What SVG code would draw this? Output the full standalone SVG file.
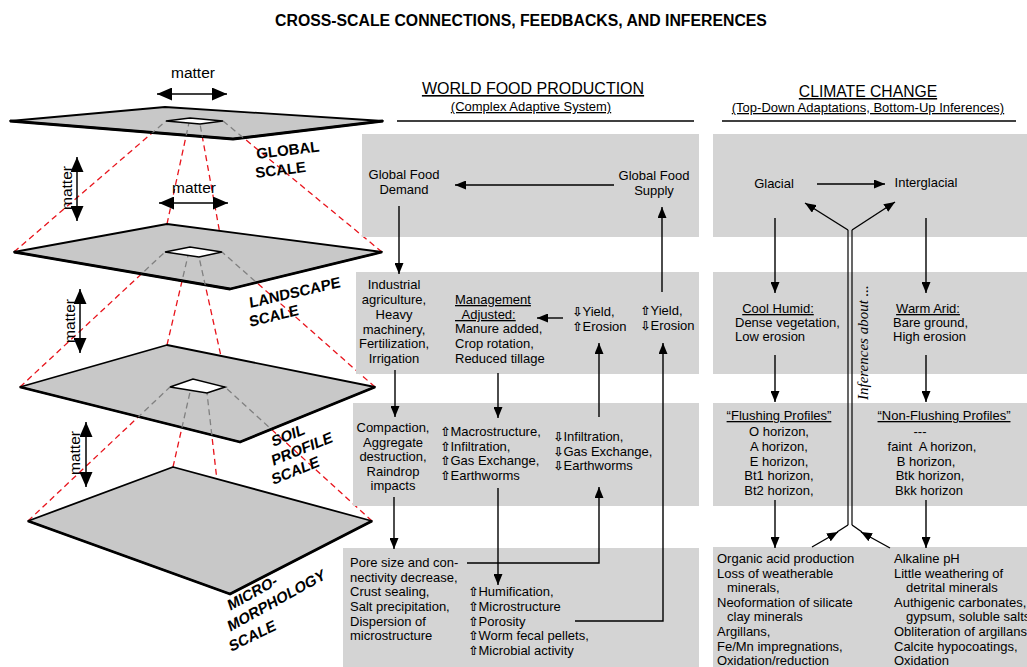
<svg xmlns="http://www.w3.org/2000/svg" width="1027" height="667" viewBox="0 0 1027 667">
<style>
text{font-family:"Liberation Sans",Arial,sans-serif;fill:#000}
.t{font-size:13px}
.c{text-anchor:middle}
.u{text-decoration:underline}
.g{font-family:"DejaVu Sans",sans-serif;font-weight:bold;font-size:12.5px}
.box{fill:#d4d4d4}
.plane{fill:#c8c8c8;stroke:#000;stroke-width:1.8;stroke-linejoin:round}
.front{fill:none;stroke:#000;stroke-width:2.8;stroke-linejoin:round}
.hole{fill:#fff;stroke:#000;stroke-width:1.5}
.red{stroke:#e8141c;stroke-width:1.3;stroke-dasharray:6 4;fill:none}
.gray{stroke:#808080;stroke-width:1.3;stroke-dasharray:6 4;fill:none}
.ln{stroke:#000;stroke-width:1.4;fill:none}
.arr{stroke:#000;stroke-width:1.4;fill:none;marker-end:url(#ah)}
.mat{stroke:#000;stroke-width:1.5;fill:none;marker-start:url(#big);marker-end:url(#big)}
.scale{font-size:15px;font-weight:bold}
</style>
<defs>
<marker id="ah" markerUnits="userSpaceOnUse" markerWidth="11" markerHeight="9" refX="11" refY="4.5" orient="auto"><path d="M0,0 L11,4.5 L0,9 z" fill="#000"/></marker>
<marker id="big" markerUnits="userSpaceOnUse" markerWidth="15" markerHeight="13" refX="15" refY="6.5" orient="auto-start-reverse"><path d="M0,0 L15,6.5 L0,13 z" fill="#000"/></marker>
<clipPath id="cp1"><polygon points="10,121 165,107 383,121 233,139"/></clipPath>
<clipPath id="cp2"><polygon points="14,252 167,224 382,252 230,289"/></clipPath>
<clipPath id="cp3"><polygon points="20,387 167,345 375,387 240,442"/></clipPath>
</defs>
<rect width="1027" height="667" fill="#fff"/>

<text x="521" y="26" class="c" style="font-size:15.8px;font-weight:bold">CROSS-SCALE CONNECTIONS, FEEDBACKS, AND INFERENCES</text>

<g id="scales">
<g id="red-lines">
<line class="red" x1="14" y1="252" x2="166" y2="121"/>
<line class="red" x1="167" y1="224" x2="190" y2="118"/>
<line class="red" x1="382" y1="252" x2="223" y2="121"/>
<line class="red" x1="230" y1="289" x2="200" y2="124"/>
<line class="red" x1="20" y1="387" x2="165" y2="252"/>
<line class="red" x1="167" y1="345" x2="190" y2="247"/>
<line class="red" x1="375" y1="387" x2="222" y2="252"/>
<line class="red" x1="240" y1="442" x2="199" y2="257"/>
<line class="red" x1="28" y1="521" x2="170" y2="387"/>
<line class="red" x1="173" y1="467" x2="193" y2="379"/>
<line class="red" x1="372" y1="521" x2="225" y2="387"/>
<line class="red" x1="230" y1="594" x2="207" y2="393"/>
</g>
<g id="global-plane">
<polygon class="plane" points="10,121 165,107 383,121 233,139"/>
<polyline class="front" points="10,121 233,139 383,121"/>
<g clip-path="url(#cp1)">
<line class="gray" x1="14" y1="252" x2="166" y2="121"/>
<line class="gray" x1="167" y1="224" x2="190" y2="118"/>
<line class="gray" x1="382" y1="252" x2="223" y2="121"/>
<line class="gray" x1="230" y1="289" x2="200" y2="124"/>
</g>
<polygon class="hole" points="166,121 190,118 223,121 200,124"/>
</g>
<g id="landscape-plane">
<polygon class="plane" points="14,252 167,224 382,252 230,289"/>
<polyline class="front" points="14,252 230,289 382,252"/>
<g clip-path="url(#cp2)">
<line class="gray" x1="20" y1="387" x2="165" y2="252"/>
<line class="gray" x1="167" y1="345" x2="190" y2="247"/>
<line class="gray" x1="375" y1="387" x2="222" y2="252"/>
<line class="gray" x1="240" y1="442" x2="199" y2="257"/>
</g>
<polygon class="hole" points="165,252 190,247 222,252 199,257"/>
</g>
<g id="soil-plane">
<polygon class="plane" points="20,387 167,345 375,387 240,442"/>
<polyline class="front" points="20,387 240,442 375,387"/>
<g clip-path="url(#cp3)">
<line class="gray" x1="28" y1="521" x2="170" y2="387"/>
<line class="gray" x1="173" y1="467" x2="193" y2="379"/>
<line class="gray" x1="372" y1="521" x2="225" y2="387"/>
<line class="gray" x1="230" y1="594" x2="207" y2="393"/>
</g>
<polygon class="hole" points="170,387 193,379 225,387 207,393"/>
</g>
<g id="micro-plane">
<polygon class="plane" points="28,521 173,467 372,521 230,594"/>
<polyline class="front" points="28,521 230,594 372,521"/>
</g>
<g id="matter-arrows">
<text x="193" y="78" class="c" style="font-size:15.5px">matter</text>
<line class="mat" x1="157" y1="94" x2="227" y2="94"/>
<text x="194" y="193" class="c" style="font-size:15.5px">matter</text>
<line class="mat" x1="159" y1="203" x2="228" y2="203"/>
<text transform="translate(72,188) rotate(-90)" class="c" style="font-size:15.5px">matter</text>
<line class="mat" x1="77" y1="157" x2="77" y2="221"/>
<text transform="translate(75,321) rotate(-90)" class="c" style="font-size:15.5px">matter</text>
<line class="mat" x1="80" y1="289" x2="80" y2="353"/>
<text transform="translate(80,453) rotate(-90)" class="c" style="font-size:15.5px">matter</text>
<line class="mat" x1="86" y1="422" x2="86" y2="487"/>
</g>
<g id="scale-labels">
<text class="scale" transform="translate(257,159) rotate(-7)">GLOBAL</text>
<text class="scale" transform="translate(256,178) rotate(-7)">SCALE</text>
<text class="scale" transform="translate(250,308) rotate(-13) skewX(-6)">LANDSCAPE</text>
<text class="scale" transform="translate(250,327) rotate(-14) skewX(-6)">SCALE</text>
<text class="scale" transform="translate(273,447) rotate(-22) skewX(-10)">SOIL</text>
<text class="scale" transform="translate(273,466) rotate(-22) skewX(-10)">PROFILE</text>
<text class="scale" transform="translate(273,485) rotate(-22) skewX(-10)">SCALE</text>
<text class="scale" transform="translate(230,611) rotate(-29) skewX(-10)">MICRO-</text>
<text class="scale" transform="translate(230,632) rotate(-29) skewX(-10)">MORPHOLOGY</text>
<text class="scale" transform="translate(231,652) rotate(-26) skewX(-10)">SCALE</text>
</g>
</g>

<g id="headers">
<text x="533" y="94" class="c u" style="font-size:16px">WORLD FOOD PRODUCTION</text>
<text x="531" y="111" class="c u t">(Complex Adaptive System)</text>
<line class="ln" x1="397" y1="121" x2="694" y2="121" style="stroke-width:1.6"/>
<text x="868" y="97" class="c u" style="font-size:15.7px">CLIMATE CHANGE</text>
<text x="868" y="112" class="c u t">(Top-Down Adaptations, Bottom-Up Inferences)</text>
<line class="ln" x1="722" y1="121" x2="1016" y2="121" style="stroke-width:1.6"/>
</g>

<g id="boxes">
<rect class="box" x="362" y="134" width="337" height="103"/>
<rect class="box" x="713" y="134" width="314" height="103"/>
<rect class="box" x="356" y="272" width="343" height="102"/>
<rect class="box" x="713" y="272" width="314" height="102"/>
<rect class="box" x="353" y="403" width="346" height="103"/>
<rect class="box" x="713" y="403" width="314" height="103"/>
<rect class="box" x="343" y="548" width="356" height="119"/>
<rect class="box" x="713" y="547" width="314" height="120"/>
</g>

<g id="demand" class="t c"><text x="404" y="179">Global Food</text><text x="404" y="194">Demand</text></g>
<g id="supply" class="t c"><text x="654" y="180">Global Food</text><text x="654" y="195">Supply</text></g>

<g id="industrial" class="t c">
<text x="394" y="289">Industrial</text>
<text x="394" y="304">agriculture,</text>
<text x="394" y="319">Heavy</text>
<text x="394" y="334">machinery,</text>
<text x="394" y="348">Fertilization,</text>
<text x="394" y="363">Irrigation</text>
</g>
<g id="management" class="t">
<text x="455" y="304" class="u">Management</text>
<text x="455" y="319" class="u" xml:space="preserve">  Adjusted:</text>
<text x="455" y="333">Manure added,</text>
<text x="455" y="348">Crop rotation,</text>
<text x="455" y="363">Reduced tillage</text>
</g>
<g id="yield-down" class="t">
<text x="572" y="316"><tspan class="g">⇩</tspan>Yield,</text>
<text x="572" y="331"><tspan class="g">⇧</tspan>Erosion</text>
</g>
<g id="yield-up" class="t">
<text x="640" y="315"><tspan class="g">⇧</tspan>Yield,</text>
<text x="640" y="330"><tspan class="g">⇩</tspan>Erosion</text>
</g>

<g id="compaction" class="t c">
<text x="393" y="432">Compaction,</text>
<text x="393" y="447">Aggregate</text>
<text x="393" y="461">destruction,</text>
<text x="393" y="476">Raindrop</text>
<text x="393" y="490">impacts</text>
</g>
<g id="macro" class="t">
<text x="440" y="436"><tspan class="g">⇧</tspan>Macrostructure,</text>
<text x="440" y="451"><tspan class="g">⇧</tspan>Infiltration,</text>
<text x="440" y="465"><tspan class="g">⇧</tspan>Gas Exchange,</text>
<text x="440" y="480"><tspan class="g">⇧</tspan>Earthworms</text>
</g>
<g id="infil-down" class="t">
<text x="553" y="441"><tspan class="g">⇩</tspan>Infiltration,</text>
<text x="553" y="456"><tspan class="g">⇩</tspan>Gas Exchange,</text>
<text x="553" y="470"><tspan class="g">⇩</tspan>Earthworms</text>
</g>

<g id="pore" class="t">
<text x="350" y="567">Pore size and con-</text>
<text x="350" y="582">nectivity decrease,</text>
<text x="350" y="596">Crust sealing,</text>
<text x="350" y="611">Salt precipitation,</text>
<text x="350" y="626">Dispersion of</text>
<text x="350" y="640">microstructure</text>
</g>
<g id="humification" class="t">
<text x="468" y="596"><tspan class="g">⇧</tspan>Humification,</text>
<text x="468" y="611"><tspan class="g">⇧</tspan>Microstructure</text>
<text x="468" y="626"><tspan class="g">⇧</tspan>Porosity</text>
<text x="468" y="640"><tspan class="g">⇧</tspan>Worm fecal pellets,</text>
<text x="468" y="655"><tspan class="g">⇧</tspan>Microbial activity</text>
</g>

<g id="glacial" class="t c"><text x="774" y="188">Glacial</text></g>
<g id="interglacial" class="t c"><text x="926" y="187">Interglacial</text></g>

<g id="cool-humid" class="t">
<text x="778" y="313" class="c u">Cool Humid:</text>
<text x="735" y="327">Dense vegetation,</text>
<text x="735" y="341">Low erosion</text>
</g>
<g id="warm-arid" class="t">
<text x="928" y="313" class="c u">Warm Arid:</text>
<text x="893" y="327">Bare ground,</text>
<text x="893" y="341">High erosion</text>
</g>

<g id="flushing" class="t c">
<text x="779" y="420" class="u">“Flushing Profiles”</text>
<text x="779" y="436">O horizon,</text>
<text x="779" y="451">A horizon,</text>
<text x="779" y="466">E horizon,</text>
<text x="779" y="480">Bt1 horizon,</text>
<text x="779" y="495">Bt2 horizon,</text>
</g>
<g id="non-flushing" class="t c">
<text x="944" y="420" class="u">“Non-Flushing Profiles”</text>
<text x="920" y="436">---</text>
<text x="932" y="451" xml:space="preserve">faint  A horizon,</text>
<text x="926" y="466">B horizon,</text>
<text x="930" y="480">Btk horizon,</text>
<text x="929" y="495">Bkk horizon</text>
</g>

<g id="acid" class="t">
<text x="717" y="563">Organic acid production</text>
<text x="717" y="578">Loss of weatherable</text>
<text x="727" y="592">minerals,</text>
<text x="717" y="607">Neoformation of silicate</text>
<text x="727" y="621">clay minerals</text>
<text x="717" y="636">Argillans,</text>
<text x="717" y="651">Fe/Mn impregnations,</text>
<text x="717" y="665">Oxidation/reduction</text>
</g>
<g id="alkaline" class="t">
<text x="894" y="563">Alkaline pH</text>
<text x="894" y="578">Little weathering of</text>
<text x="906" y="592">detrital minerals</text>
<text x="894" y="607">Authigenic carbonates,</text>
<text x="906" y="621">gypsum, soluble salts</text>
<text x="894" y="636">Obliteration of argillans</text>
<text x="894" y="651">Calcite hypocoatings,</text>
<text x="894" y="665">Oxidation</text>
</g>

<g id="inferences">
<text transform="translate(868,400) rotate(-90)" style="font-family:'Liberation Serif','Times New Roman',serif;font-style:italic;font-size:15px">Inferences about ...</text>
</g>

<g id="connectors">
<line class="arr" x1="614" y1="185" x2="455" y2="185"/>
<line class="arr" x1="399" y1="206" x2="399" y2="274"/>
<line class="arr" x1="662" y1="292" x2="662" y2="207"/>
<line class="arr" x1="563" y1="318" x2="537" y2="318"/>
<line class="arr" x1="395" y1="370" x2="395" y2="417"/>
<line class="arr" x1="498" y1="373" x2="498" y2="418"/>
<line class="arr" x1="599" y1="417" x2="599" y2="343"/>
<path class="arr" d="M575,621 H663 V343"/>
<line class="arr" x1="394" y1="497" x2="394" y2="549"/>
<line class="arr" x1="498" y1="488" x2="498" y2="585"/>
<path class="arr" d="M467,563 H599 V487"/>
<line class="arr" x1="817" y1="184" x2="885" y2="184"/>
<line class="arr" x1="775" y1="218" x2="775" y2="293"/>
<line class="arr" x1="926" y1="218" x2="926" y2="293"/>
<line class="arr" x1="775" y1="355" x2="775" y2="402"/>
<line class="arr" x1="926" y1="355" x2="926" y2="402"/>
<line class="arr" x1="775" y1="500" x2="775" y2="548"/>
<line class="arr" x1="926" y1="500" x2="926" y2="548"/>
<line class="ln" x1="848" y1="230" x2="848" y2="525" style="stroke-width:1.2"/>
<line class="ln" x1="852" y1="230" x2="852" y2="525" style="stroke-width:1.2"/>
<line class="arr" x1="848" y1="230" x2="805" y2="203"/>
<line class="arr" x1="852" y1="230" x2="895" y2="202"/>
<line class="arr" x1="812" y1="547" x2="838" y2="532"/>
<line class="ln" x1="837" y1="532" x2="848" y2="525"/>
<line class="arr" x1="890" y1="548" x2="861" y2="532"/>
<line class="ln" x1="862" y1="532" x2="852" y2="525"/>
</g>
</svg>
